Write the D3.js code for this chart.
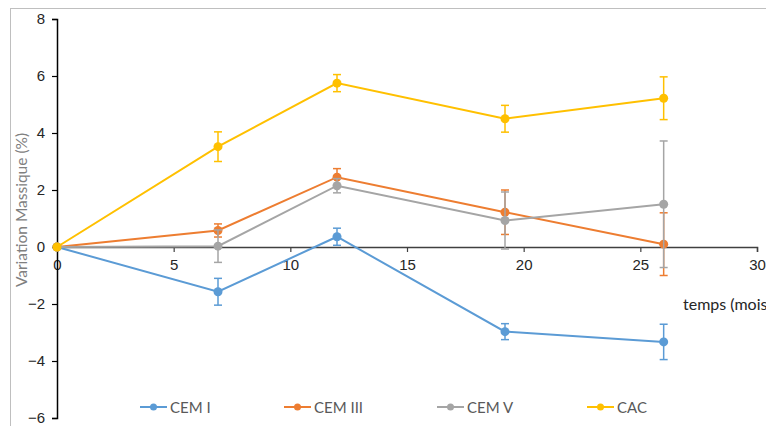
<!DOCTYPE html>
<html>
<head>
<meta charset="utf-8">
<script src="https://cdn.jsdelivr.net/npm/d3@7"></script>
<style>
  body { margin: 0; background: #fff; }
  svg { display: block; font-family: Lato, "Open Sans", sans-serif; }
</style>
</head>
<body>
<div id="chart"></div>
<script>
// Données
const mois = [0, 6.9, 12, 19.2, 26];
const seriesNames = ["CEM I", "CEM III", "CEM V", "CAC"];
const seriesColors = ["#5B9BD5", "#ED7D31", "#A5A5A5", "#FFC000"];
const cem1 = [0, -1.57, 0.36, -2.97, -3.33];
const cem1Err = [0, 0.47, 0.3, 0.28, 0.62];
const cem3 = [0, 0.58, 2.45, 1.22, 0.1];
const cem3Err = [0, 0.23, 0.3, 0.78, 1.1];
const cem5 = [0, 0.03, 2.15, 0.93, 1.5];
const cem5Err = [0, 0.57, 0.25, 1.0, 2.22];
const cac = [0, 3.52, 5.75, 4.5, 5.22];
const cacErr = [0, 0.52, 0.3, 0.47, 0.75];
const xTicks = [0, 5, 10, 15, 20, 25, 30];
const yTicks = [-6, -4, -2, 0, 2, 4, 6, 8];

const values = [cem1, cem3, cem5, cac];
const errors = [cem1Err, cem3Err, cem5Err, cacErr];

const width = 766, height = 426;

const svg = d3.select("#chart").append("svg")
    .attr("width", width)
    .attr("height", height);

// cadre gris
svg.append("rect")
    .attr("x", 10.5).attr("y", 8.5)
    .attr("width", width + 20).attr("height", height + 20)
    .attr("fill", "none").attr("stroke", "#BFBFBF").attr("stroke-width", 1);

const x = d3.scaleLinear().domain([0, 30]).range([57, 757]);
const y = d3.scaleLinear().domain([-6, 8]).range([418, 19]);

// axe X sur la ligne du zéro
const xAxis = svg.append("g")
    .attr("transform", `translate(0,${y(0)})`)
    .call(d3.axisBottom(x).tickValues(xTicks).tickSize(5).tickPadding(7));
xAxis.select(".domain").attr("stroke", "#404040").attr("stroke-width", 1.5);
xAxis.selectAll(".tick line").attr("stroke", "#404040").attr("stroke-width", 1.2);
xAxis.selectAll("text").attr("font-size", 15).attr("fill", "#262626");

// axe Y
const yAxis = svg.append("g")
    .attr("transform", `translate(${x(0)},0)`)
    .call(d3.axisLeft(y).tickValues(yTicks).tickSizeOuter(0).tickSize(5).tickPadding(7));
yAxis.select(".domain").attr("stroke", "#000").attr("stroke-width", 1.5);
yAxis.selectAll(".tick line").attr("stroke", "#000").attr("stroke-width", 1.2);
yAxis.selectAll("text").attr("font-size", 15).attr("fill", "#262626");

// titres d'axes
svg.append("text")
    .attr("transform", `translate(27,210) rotate(-90)`)
    .attr("text-anchor", "middle")
    .attr("font-size", 15.5)
    .attr("fill", "#808080")
    .text("Variation Massique (%)");

svg.append("text")
    .attr("x", 683).attr("y", 310)
    .attr("font-size", 16)
    .attr("fill", "#262626")
    .text("temps (mois)");

const line = d3.line()
    .x((d, i) => x(mois[i]))
    .y(d => y(d));

values.forEach((vals, s) => {
    const color = seriesColors[s];
    const g = svg.append("g");

    // barres d'erreur
    vals.forEach((v, i) => {
        const e = errors[s][i];
        if (e <= 0) return;
        const cx = x(mois[i]);
        g.append("line")
            .attr("x1", cx).attr("x2", cx)
            .attr("y1", y(v - e)).attr("y2", y(v + e))
            .attr("stroke", color).attr("stroke-width", 1.5);
        [v - e, v + e].forEach(t => {
            g.append("line")
                .attr("x1", cx - 4).attr("x2", cx + 4)
                .attr("y1", y(t)).attr("y2", y(t))
                .attr("stroke", color).attr("stroke-width", 1.5);
        });
    });

    g.append("path")
        .datum(vals)
        .attr("d", line)
        .attr("fill", "none")
        .attr("stroke", color)
        .attr("stroke-width", 2);

    g.selectAll("circle")
        .data(vals)
        .join("circle")
        .attr("cx", (d, i) => x(mois[i]))
        .attr("cy", d => y(d))
        .attr("r", 4.5)
        .attr("fill", color);
});

// légende
const legendX = [140, 284, 437, 587];
const legend = svg.append("g");
seriesNames.forEach((name, i) => {
    const lg = legend.append("g").attr("transform", `translate(${legendX[i]},407)`);
    lg.append("line")
        .attr("x1", 0).attr("x2", 27)
        .attr("stroke", seriesColors[i]).attr("stroke-width", 2);
    lg.append("circle")
        .attr("cx", 13.5).attr("cy", 0).attr("r", 3.5)
        .attr("fill", seriesColors[i]);
    lg.append("text")
        .attr("x", 30).attr("y", 5.5)
        .attr("font-size", 15)
        .attr("fill", "#595959")
        .text(name);
});
</script>
</body>
</html>
